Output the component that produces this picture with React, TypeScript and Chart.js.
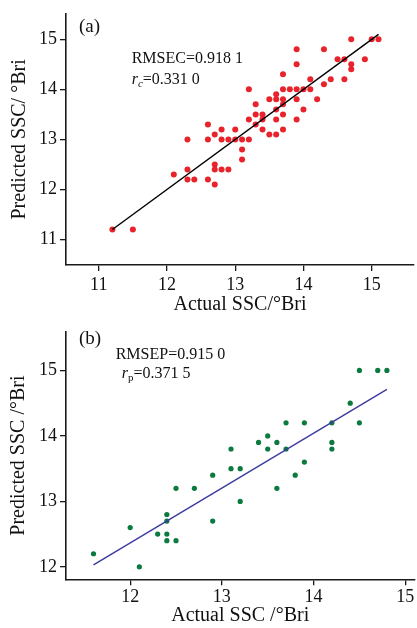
import React, { useEffect, useRef } from "react";
import { Chart, registerables } from "chart.js";

Chart.register(...registerables);

// ---------- Panel (a): calibration set ----------
const calActual = [
  11.2, 11.5, 12.1, 12.3, 12.3, 12.3, 12.4, 12.6, 12.6, 12.6,
  12.7, 12.7, 12.7, 12.7, 12.8, 12.8, 12.8, 12.9, 12.9, 13.0,
  13.0, 13.1, 13.1, 13.1, 13.2, 13.2, 13.2, 13.3, 13.3, 13.3,
  13.4, 13.4, 13.4, 13.5, 13.5, 13.6, 13.6, 13.6, 13.6, 13.6,
  13.7, 13.7, 13.7, 13.7, 13.7, 13.7, 13.8, 13.9, 13.9, 13.9,
  13.9, 13.9, 14.0, 14.0, 14.1, 14.1, 14.2, 14.3, 14.3, 14.4,
  14.5, 14.6, 14.6, 14.7, 14.7, 14.7, 14.9, 15.0, 15.1,
];
const calPredicted = [
  11.2, 11.2, 12.3, 13.0, 12.4, 12.2, 12.2, 13.3, 13.0, 12.2,
  13.1, 12.5, 12.4, 12.1, 13.2, 13.0, 12.4, 13.0, 12.4, 13.2,
  13.0, 13.0, 12.8, 12.6, 14.0, 13.4, 13.0, 13.7, 13.5, 13.3,
  13.5, 13.4, 13.2, 13.8, 13.1, 13.9, 13.8, 13.6, 13.4, 13.1,
  14.3, 14.0, 13.8, 13.7, 13.5, 13.2, 14.0, 14.8, 14.5, 14.0,
  13.8, 13.4, 14.0, 13.6, 14.2, 14.0, 13.8, 14.8, 14.1, 14.2,
  14.6, 14.6, 14.2, 15.0, 14.5, 14.4, 14.6, 15.0, 15.0,
];
const calFitX = [11.2, 15.1];
const calFitY = [11.2, 15.1];
const calXTicks = [11, 12, 13, 14, 15];
const calYTicks = [11, 12, 13, 14, 15];

// ---------- Panel (b): prediction set ----------
const predActual = [
  11.6, 12.0, 12.1, 12.3, 12.4, 12.4, 12.4, 12.4, 12.5, 12.5,
  12.7, 12.9, 12.9, 13.1, 13.1, 13.2, 13.2, 13.4, 13.5, 13.5,
  13.6, 13.6, 13.7, 13.7, 13.8, 13.9, 13.9, 14.2, 14.2, 14.2,
  14.4, 14.5, 14.5, 14.7, 14.8,
];
const predPredicted = [
  12.2, 12.6, 12.0, 12.5, 12.8, 12.7, 12.5, 12.4, 13.2, 12.4,
  13.2, 13.4, 12.7, 13.8, 13.5, 13.5, 13.0, 13.9, 14.0, 13.8,
  13.9, 13.2, 14.2, 13.8, 13.4, 14.2, 13.6, 14.2, 13.9, 13.8,
  14.5, 15.0, 14.2, 15.0, 15.0,
];
const predFitX = [11.6, 14.8];
const predFitY = [12.03, 14.71];
const predXTicks = [12, 13, 14, 15];
const predYTicks = [12, 13, 14, 15];

const FONT = "'Liberation Serif', 'Times New Roman', Times, serif";
const AXIS = "#1a1a1a";
const TEXT = "#111111";

type Run = { t: string; italic?: boolean; size: number; dy?: number };
type Note = { x: number; y: number; runs: Run[] };

const notesPlugin = {
  id: "notes",
  afterDraw(chart: any, _args: any, opts: any) {
    const ctx = chart.ctx as CanvasRenderingContext2D;
    const items: Note[] = (opts && opts.items) || [];
    ctx.save();
    ctx.fillStyle = TEXT;
    ctx.textBaseline = "alphabetic";
    ctx.textAlign = "left";
    for (const it of items) {
      let x = it.x;
      for (const r of it.runs) {
        ctx.font = `${r.italic ? "italic " : ""}${r.size}px ${FONT}`;
        ctx.fillText(r.t, x, it.y + (r.dy || 0));
        x += ctx.measureText(r.t).width;
      }
    }
    ctx.restore();
  },
};

function pts(xs: number[], ys: number[]) {
  return xs.map((x, i) => ({ x, y: ys[i] }));
}

function buildOptions(cfg: {
  xMin: number; xMax: number; yMin: number; yMax: number;
  xTicks: number[]; yTicks: number[];
  xTitle: string; yTitle: string;
  padTop: number; xScaleH: number; yScaleW: number;
  xTickPad: number; xTitlePadBottom: number; yTitlePadTop: number;
  notes: Note[];
}) {
  const grid = {
    drawOnChartArea: false,
    drawTicks: true,
    tickLength: 6,
    color: AXIS,
    lineWidth: 1.3,
  };
  const border = { display: true, color: AXIS, width: 1.6 };
  return {
    responsive: false,
    animation: false,
    devicePixelRatio: 1,
    layout: { padding: { top: cfg.padTop, right: 1, left: 0, bottom: 0 } },
    plugins: {
      legend: { display: false },
      tooltip: { enabled: false },
      notes: { items: cfg.notes },
    },
    scales: {
      x: {
        type: "linear",
        min: cfg.xMin,
        max: cfg.xMax,
        afterBuildTicks: (s: any) => {
          s.ticks = cfg.xTicks.map((v) => ({ value: v }));
        },
        afterFit: (s: any) => {
          s.height = cfg.xScaleH;
        },
        grid,
        border,
        ticks: {
          font: { family: FONT, size: 18 },
          color: TEXT,
          padding: cfg.xTickPad,
          maxRotation: 0,
          autoSkip: false,
        },
        title: {
          display: true,
          text: cfg.xTitle,
          font: { family: FONT, size: 20 },
          color: TEXT,
          padding: { top: 0, bottom: cfg.xTitlePadBottom },
        },
      },
      y: {
        type: "linear",
        min: cfg.yMin,
        max: cfg.yMax,
        afterBuildTicks: (s: any) => {
          s.ticks = cfg.yTicks.map((v) => ({ value: v }));
        },
        afterFit: (s: any) => {
          s.width = cfg.yScaleW;
        },
        grid,
        border,
        ticks: {
          font: { family: FONT, size: 18 },
          color: TEXT,
          padding: 3,
          autoSkip: false,
        },
        title: {
          display: true,
          text: cfg.yTitle,
          font: { family: FONT, size: 20 },
          color: TEXT,
          padding: { top: cfg.yTitlePadTop, bottom: 0 },
        },
      },
    },
  };
}

function Panel(props: { kind: "a" | "b"; top: number; height: number }) {
  const ref = useRef<HTMLCanvasElement | null>(null);
  useEffect(() => {
    if (!ref.current) return;
    let chart: Chart;
    if (props.kind === "a") {
      chart = new Chart(ref.current, {
        type: "scatter",
        data: {
          datasets: [
            {
              data: pts(calFitX, calFitY),
              type: "line",
              showLine: true,
              borderColor: "#000000",
              borderWidth: 1.4,
              pointRadius: 0,
              fill: false,
              order: 0,
            } as any,
            {
              data: pts(calActual, calPredicted),
              backgroundColor: "#e8232b",
              borderColor: "#e8232b",
              borderWidth: 0,
              pointRadius: 3,
              pointHoverRadius: 3,
              order: 1,
            },
          ],
        },
        options: buildOptions({
          xMin: 10.52, xMax: 15.62, yMin: 10.49, yMax: 15.51,
          xTicks: calXTicks, yTicks: calYTicks,
          xTitle: "Actual SSC/°Bri", yTitle: "Predicted SSC/ °Bri",
          padTop: 8, xScaleH: 53, yScaleW: 66,
          xTickPad: 3, xTitlePadBottom: 1, yTitlePadTop: 7.4,
          notes: [
            { x: 79, y: 32.3, runs: [{ t: "(a)", size: 19 }] },
            { x: 131.7, y: 63.3, runs: [{ t: "RMSEC=0.918 1", size: 16 }] },
            {
              x: 131.7,
              y: 84,
              runs: [
                { t: "r", italic: true, size: 16 },
                { t: "c", italic: true, size: 11, dy: 3 },
                { t: "=0.331 0", size: 16 },
              ],
            },
          ],
        }) as any,
        plugins: [notesPlugin],
      });
    } else {
      chart = new Chart(ref.current, {
        type: "scatter",
        data: {
          datasets: [
            {
              data: pts(predFitX, predFitY),
              type: "line",
              showLine: true,
              borderColor: "#3b3b9e",
              borderWidth: 1.4,
              pointRadius: 0,
              fill: false,
              order: 0,
            } as any,
            {
              data: pts(predActual, predPredicted),
              backgroundColor: "#0b7a3e",
              borderColor: "#0b7a3e",
              borderWidth: 0,
              pointRadius: 2.6,
              pointHoverRadius: 2.6,
              order: 1,
            },
          ],
        },
        options: buildOptions({
          xMin: 11.3, xMax: 15.1, yMin: 11.81, yMax: 15.59,
          xTicks: predXTicks, yTicks: predYTicks,
          xTitle: "Actual SSC /°Bri", yTitle: "Predicted SSC /°Bri",
          padTop: 5.3, xScaleH: 48.7, yScaleW: 66,
          xTickPad: 1, xTitlePadBottom: 0, yTitlePadTop: 7.2,
          notes: [
            { x: 79, y: 26.3, runs: [{ t: "(b)", size: 19 }] },
            { x: 115.7, y: 41, runs: [{ t: "RMSEP=0.915 0", size: 16 }] },
            {
              x: 121.7,
              y: 60.3,
              runs: [
                { t: "r", italic: true, size: 16 },
                { t: "p", size: 11, dy: 3 },
                { t: "=0.371 5", size: 16 },
              ],
            },
          ],
        }) as any,
        plugins: [notesPlugin],
      });
    }
    return () => chart.destroy();
  }, [props.kind]);
  return (
    <canvas
      ref={ref}
      width={417}
      height={props.height}
      style={{
        position: "absolute",
        left: 0,
        top: props.top,
        width: 417,
        height: props.height,
        display: "block",
      }}
    />
  );
}

export default function App() {
  return (
    <div
      style={{
        position: "fixed",
        left: 0,
        top: 0,
        width: 417,
        height: 628,
        background: "#ffffff",
        overflow: "hidden",
      }}
    >
      <Panel kind="a" top={0} height={318} />
      <Panel kind="b" top={318} height={310} />
    </div>
  );
}
